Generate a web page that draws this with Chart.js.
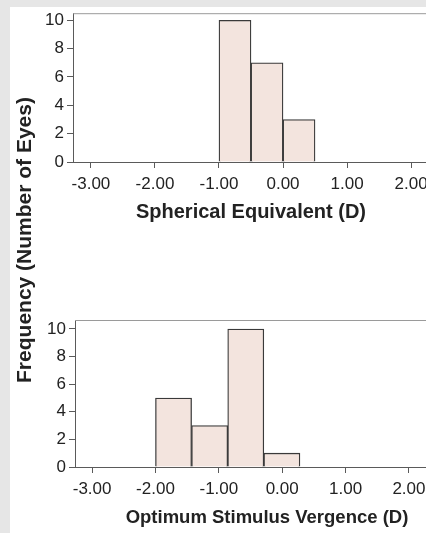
<!DOCTYPE html>
<html>
<head>
<meta charset="utf-8">
<script src="https://cdn.jsdelivr.net/npm/chart.js@4.4.1/dist/chart.umd.min.js"></script>
<style>
  html, body { margin: 0; padding: 0; }
  body { width: 426px; height: 533px; overflow: hidden; position: relative; background: #e6e6e6; font-family: "Liberation Sans", Arial, sans-serif; }
  #panel { position: absolute; left: 10px; top: 7px; right: 0; bottom: 0; background: #fff; }
  .box { position: absolute; left: 0; width: 470px; }
  #topBox { top: 0; height: 240px; }
  #botBox { top: 290px; height: 243px; }
  #ytitle {
    position: absolute; left: -136px; top: 228px; width: 320px; height: 24px;
    text-align: center; font-weight: bold; font-size: 21px; line-height: 24px; color: #222;
    transform: rotate(-90deg);
  }
</style>
</head>
<body>
<div id="panel"></div>
<div class="box" id="topBox"><canvas id="sphChart"></canvas></div>
<div class="box" id="botBox"><canvas id="osvChart"></canvas></div>
<div id="ytitle">Frequency (Number of Eyes)</div>
<script>
// ── DATA ──
const xTicks = [-3, -2, -1, 0, 1, 2];
const yTicks = [0, 2, 4, 6, 8, 10];

// Spherical equivalent histogram (bin start, bin width 0.5 D)
const sphBinStarts = [-1.0, -0.5, 0.0];
const sphCounts    = [10, 7, 3];
const sphBinWidth  = 0.5;

// Optimum stimulus vergence histogram
const osvBinStarts = [-2.0, -1.43, -0.86, -0.29];
const osvCounts    = [5, 3, 10, 1];
const osvBinWidth  = 0.57;

const COLORS = {
  bar:    '#f3e4de',
  edge:   '#3a3a3a',
  axis:   '#5a5a5a',
  frame:  '#9a9a9a',
  text:   '#222222',
};

const TICK_FONT  = { family: "'Liberation Sans', Arial, sans-serif", size: 17 };

// draws the top/right edges of the plot frame
const framePlugin = {
  id: 'frame',
  afterDraw(chart) {
    const { ctx, chartArea: a } = chart;
    ctx.save();
    ctx.strokeStyle = COLORS.frame;
    ctx.lineWidth = 1;
    ctx.beginPath();
    ctx.moveTo(a.left, a.top + 0.5);
    ctx.lineTo(a.right, a.top + 0.5);
    ctx.lineTo(a.right, a.bottom);
    ctx.stroke();
    ctx.restore();
  }
};

function makeHistogram(canvasId, starts, counts, width, opts) {
  const points = starts.map((s, i) => ({ x: s + width / 2, y: counts[i] }));
  return new Chart(document.getElementById(canvasId), {
    type: 'bar',
    data: {
      datasets: [{
        data: points,
        backgroundColor: COLORS.bar,
        borderColor: COLORS.edge,
        borderWidth: 1.3,
        barPercentage: 1,
        categoryPercentage: 1,
      }],
    },
    plugins: [framePlugin],
    options: {
      responsive: true,
      maintainAspectRatio: false,
      animation: false,
      layout: { padding: { top: opts.padTop, right: opts.padRight, left: 0, bottom: 0 } },
      plugins: { legend: { display: false }, tooltip: { enabled: false } },
      scales: {
        x: {
          type: 'linear',
          offset: false,
          min: opts.xMin,
          max: opts.xMax,
          afterBuildTicks: s => { s.ticks = xTicks.map(v => ({ value: v })); },
          afterFit: s => { s.height = opts.xHeight; },
          grid: { display: true, offset: false, drawOnChartArea: false, drawTicks: true, tickLength: 6, color: COLORS.axis },
          border: { display: true, color: COLORS.axis, width: 1 },
          ticks: { color: COLORS.text, font: TICK_FONT, padding: 6, maxRotation: 0, callback: v => v.toFixed(2) },
          title: {
            display: true, text: opts.title, color: COLORS.text,
            font: { family: "'Liberation Sans', Arial, sans-serif", size: opts.titleSize, weight: 'bold' },
            padding: { top: 0, bottom: opts.titlePad },
          },
        },
        y: {
          min: 0,
          max: opts.yMax,
          afterBuildTicks: s => { s.ticks = yTicks.map(v => ({ value: v })); },
          afterFit: s => { s.width = opts.yWidth; },
          grid: { display: true, drawOnChartArea: false, drawTicks: true, tickLength: 6, color: COLORS.axis },
          border: { display: true, color: COLORS.axis, width: 1 },
          ticks: { color: COLORS.text, font: TICK_FONT, padding: 3 },
        },
      },
    },
  });
}

makeHistogram('sphChart', sphBinStarts, sphCounts, sphBinWidth, {
  title: 'Spherical Equivalent (D)', titleSize: 20,
  xMin: -3.28, xMax: 2.28, yMax: 10.5,
  padTop: 13, padRight: 41, xHeight: 78, yWidth: 73, titlePad: 16,
});

makeHistogram('osvChart', osvBinStarts, osvCounts, osvBinWidth, {
  title: 'Optimum Stimulus Vergence (D)', titleSize: 18.5,
  xMin: -3.27, xMax: 2.79, yMax: 10.65,
  padTop: 30, padRight: 11, xHeight: 66, yWidth: 75, titlePad: 4,
});
</script>
</body>
</html>
